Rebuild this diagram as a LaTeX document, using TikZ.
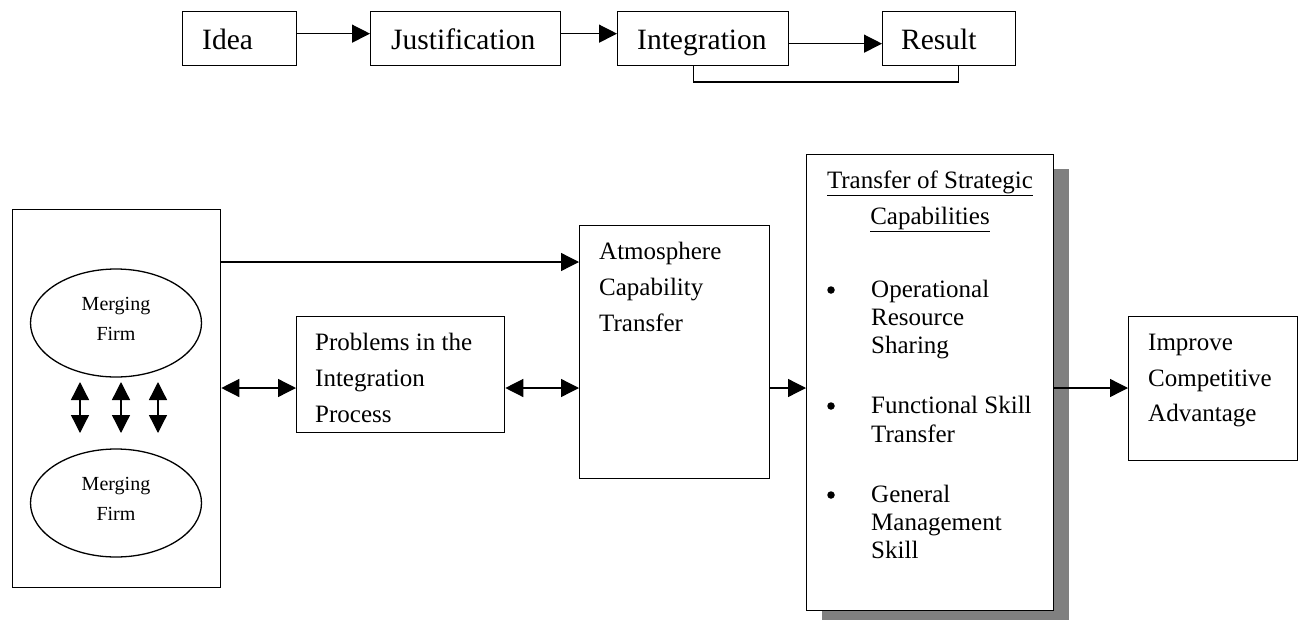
\documentclass[tikz,border=0pt]{standalone}
\usepackage{fontspec}
\setmainfont{Liberation Serif}
\usetikzlibrary{arrows.meta,shapes.geometric,calc}
\definecolor{shadowgray}{HTML}{808080}
\begin{document}
\begin{tikzpicture}[x=1pt,y=-1pt,
 box/.style={draw,line width=1.3pt,inner sep=0pt,anchor=north west,fill=white},
 lbl/.style={anchor=base west,inner sep=0pt,font=\fontsize{25}{30}\selectfont},
 clbl/.style={anchor=base,inner sep=0pt,font=\fontsize{25}{30}\selectfont},
 tl/.style={anchor=base west,inner sep=0pt,font=\fontsize{29.5}{34}\selectfont},
 el/.style={anchor=base,inner sep=0pt,font=\fontsize{20}{24}\selectfont},
 dot/.style={circle,fill,inner sep=0pt,minimum size=7.5pt},
 firm/.style={draw,ellipse,line width=1.3pt,minimum width=171pt,minimum height=108pt,inner sep=0pt},
 arr/.style={line width=1.3pt,-{Triangle[length=18pt,width=18pt]}},
 darr/.style={line width=1.3pt,{Triangle[length=18pt,width=18pt]}-{Triangle[length=18pt,width=18pt]}},
 ]
\useasboundingbox (0,0) rectangle (1299,624);

% ---------- top row ----------
\node[box,minimum width=114pt,minimum height=54pt] (idea) at (182,11) {};
\node[box,minimum width=190pt,minimum height=54pt] (just) at (370,11) {};
\node[box,minimum width=171pt,minimum height=54pt] (integ) at (617,11) {};
\node[box,minimum width=133pt,minimum height=54pt] (result) at (882,11) {};
\node[tl] (tidea) at (202,49) {Idea};
\node[tl] (tjust) at (391,49) {Justification};
\node[tl] (tinteg) at (637,49) {Integration};
\node[tl] (tresult) at (901,49) {Result};

\draw[arr] ([yshift=5pt]idea.east) -- ([yshift=5pt]just.west);
\draw[arr] ([yshift=5pt]just.east) -- ([yshift=5pt]integ.west);
\draw[arr] ([yshift=-5pt]integ.east) -- ([yshift=-5pt]result.west);
\coordinate (fb) at (0,82);
\draw[line width=1.3pt] ([xshift=-9.5pt]integ.south) -- ([xshift=-9.5pt]integ.south |- fb)
  -| ([xshift=9.5pt]result.south);

% ---------- lower part ----------
\node[box,minimum width=208pt,minimum height=378pt] (firms) at (12,209) {};
\node[firm] (e1) at (116,323) {};
\node[el] (e1a) at (116,310) {Merging};
\node[el] (e1b) at (116,340) {Firm};
\node[firm] (e2) at (116,503) {};
\node[el] (e2a) at (116,490) {Merging};
\node[el] (e2b) at (116,520) {Firm};

\coordinate (v1a) at (80,382);  \coordinate (v1b) at (80,433);
\coordinate (v2a) at (121,382); \coordinate (v2b) at (121,433);
\coordinate (v3a) at (158,382); \coordinate (v3b) at (158,433);
\draw[darr] (v1a) -- (v1b);
\draw[darr] (v2a) -- (v2b);
\draw[darr] (v3a) -- (v3b);

\node[box,minimum width=208pt,minimum height=116pt] (probs) at (296,316) {};
\node[lbl] (p1) at (315,350) {Problems in the};
\node[lbl] (p2) at (315,386) {Integration};
\node[lbl] (p3) at (315,422) {Process};

\node[box,minimum width=190pt,minimum height=253pt] (atmos) at (579,225) {};
\node[lbl] (a1) at (599,259) {Atmosphere};
\node[lbl] (a2) at (599,295) {Capability};
\node[lbl] (a3) at (599,331) {Transfer};

\fill[shadowgray] (822,169) rectangle (1069,620);
\node[box,minimum width=247pt,minimum height=456pt] (transfer) at (806,154) {};
\node[clbl] (s1) at (930,188) {\underline{Transfer of Strategic}};
\node[clbl] (s2) at (930,224) {\underline{Capabilities}};
\node[dot] (b1) at (831,290) {};
\node[lbl] (o1) at (871,297) {Operational};
\node[lbl] (o2) at (871,325) {Resource};
\node[lbl] (o3) at (871,353) {Sharing};
\node[dot] (b2) at (831,406) {};
\node[lbl] (f1) at (871,413) {Functional Skill};
\node[lbl] (f2) at (871,442) {Transfer};
\node[dot] (b3) at (831,495) {};
\node[lbl] (g1) at (871,502) {General};
\node[lbl] (g2) at (871,530) {Management};
\node[lbl] (g3) at (871,558) {Skill};

\node[box,minimum width=169pt,minimum height=144pt] (improve) at (1128,316) {};
\node[lbl] (i1) at (1148,350) {Improve};
\node[lbl] (i2) at (1148,386) {Competitive};
\node[lbl] (i3) at (1148,421) {Advantage};

\coordinate (yA) at (0,262);
\coordinate (yM) at (0,388);
\draw[arr] (firms.east |- yA) -- (atmos.west |- yA);
\draw[darr] (firms.east |- yM) -- (probs.west |- yM);
\draw[darr] (probs.east |- yM) -- (atmos.west |- yM);
\draw[arr] (atmos.east |- yM) -- (transfer.west |- yM);
\draw[arr] (transfer.east |- yM) -- (improve.west |- yM);
\end{tikzpicture}
\end{document}
